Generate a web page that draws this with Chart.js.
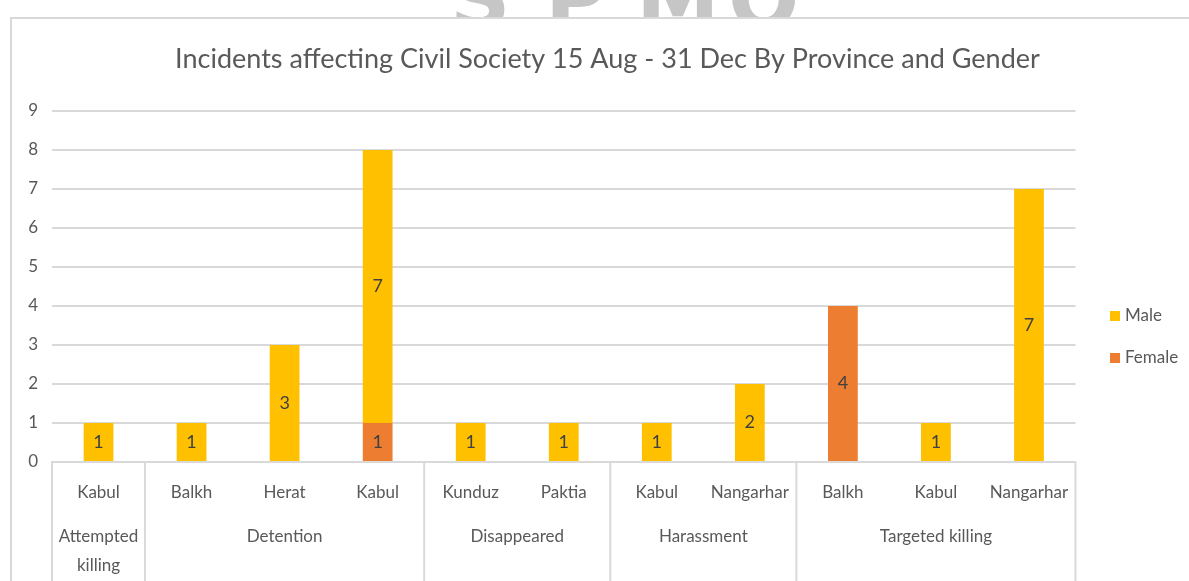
<!DOCTYPE html>
<html>
<head>
<meta charset="utf-8">
<script src="https://cdn.jsdelivr.net/npm/chart.js@4.4.1/dist/chart.umd.min.js"></script>
<style>
  html, body { margin: 0; padding: 0; background: #fff; overflow: hidden; }
  body { width: 1189px; height: 581px; position: relative; }
  .marca { position: absolute; top: -50px; font: bold 84px "DejaVu Sans", sans-serif; color: #c6c6c6; }
  .moldura { position: absolute; left: 10px; top: 17px; width: 1300px; height: 700px;
             border-left: 2px solid #d9d9d9; border-top: 2px solid #d9d9d9; background: #fff; }
  #grafico { position: absolute; left: 10px; top: 17px; }
</style>
</head>
<body>
<span class="marca" style="left:450px">S</span>
<span class="marca" style="left:545px">P</span>
<span class="marca" style="left:636px">M</span>
<span class="marca" style="left:728px">O</span>
<div class="moldura"></div>
<canvas id="grafico" width="1195" height="600"></canvas>

<script>
var grupos = ["Attempted killing", "Detention", "Disappeared", "Harassment", "Targeted killing"];
var provincias = ["Kabul", "Balkh", "Herat", "Kabul", "Kunduz", "Paktia", "Kabul", "Nangarhar", "Balkh", "Kabul", "Nangarhar"];
var grupoDe = [0, 1, 1, 1, 2, 2, 3, 3, 4, 4, 4];
var feminino = [null, null, null, 1, null, null, null, null, 4, null, null];
var masculino = [1, 1, 3, 7, 1, 1, 1, 2, null, 1, 7];
var ticksY = [0, 1, 2, 3, 4, 5, 6, 7, 8, 9];

var corTexto = "#595959";
var corLinha = "#d9d9d9";
var fonte = "Lato";

// linhas divisorias e nomes dos grupos abaixo do eixo x
var eixoGrupos = {
  id: "eixoGrupos",
  afterDraw: function (chart) {
    var ctx = chart.ctx;
    var x = chart.scales.x;
    var area = chart.chartArea;
    var limites = [area.left];
    for (var i = 1; i < provincias.length; i++) {
      if (grupoDe[i] != grupoDe[i - 1]) {
        limites.push((x.getPixelForValue(i - 1) + x.getPixelForValue(i)) / 2);
      }
    }
    limites.push(area.right);

    ctx.save();
    ctx.strokeStyle = corLinha;
    ctx.lineWidth = 2;
    for (var j = 0; j < limites.length; j++) {
      ctx.beginPath();
      ctx.moveTo(limites[j], area.bottom);
      ctx.lineTo(limites[j], chart.height);
      ctx.stroke();
    }

    ctx.fillStyle = corTexto;
    ctx.font = "17px " + fonte;
    ctx.textAlign = "center";
    ctx.textBaseline = "middle";
    for (var g = 0; g < grupos.length; g++) {
      var meio = (limites[g] + limites[g + 1]) / 2;
      var texto = grupos[g];
      if (texto == "Attempted killing") {
        ctx.fillText("Attempted", meio, area.bottom + 75);
        ctx.fillText("killing", meio, area.bottom + 104);
      } else {
        ctx.fillText(texto, meio, area.bottom + 75);
      }
    }
    ctx.restore();
  }
};

// numeros dentro das barras
var rotulosBarras = {
  id: "rotulosBarras",
  afterDatasetsDraw: function (chart) {
    var ctx = chart.ctx;
    ctx.save();
    ctx.fillStyle = "#404040";
    ctx.font = "18px " + fonte;
    ctx.textAlign = "center";
    ctx.textBaseline = "middle";
    chart.data.datasets.forEach(function (ds, d) {
      var meta = chart.getDatasetMeta(d);
      meta.data.forEach(function (barra, i) {
        if (ds.data[i] == null) return;
        ctx.fillText(ds.data[i], barra.x, (barra.y + barra.base) / 2);
      });
    });
    ctx.restore();
  }
};

// legenda a direita, Male em cima
var legendaLateral = {
  id: "legendaLateral",
  afterDraw: function (chart) {
    var ctx = chart.ctx;
    var ds = chart.data.datasets.slice().reverse();
    ctx.save();
    ctx.font = "17px " + fonte;
    ctx.textBaseline = "middle";
    ctx.textAlign = "left";
    for (var i = 0; i < ds.length; i++) {
      var y = 299 + i * 42;
      ctx.fillStyle = ds[i].backgroundColor;
      ctx.fillRect(1100, y - 5, 10, 10);
      ctx.fillStyle = corTexto;
      ctx.fillText(ds[i].label, 1115, y);
    }
    ctx.restore();
  }
};

var ctx = document.getElementById("grafico").getContext("2d");

var grafico = new Chart(ctx, {
  type: "bar",
  data: {
    labels: provincias,
    datasets: [
      {
        label: "Female",
        data: feminino,
        backgroundColor: "#ED7D31",
        barPercentage: 0.32,
        categoryPercentage: 1,
      },
      {
        label: "Male",
        data: masculino,
        backgroundColor: "#FFC000",
        barPercentage: 0.32,
        categoryPercentage: 1,
      },
    ],
  },
  options: {
    responsive: false,
    animation: false,
    plugins: {
      legend: { display: false },
      tooltip: { enabled: false },
      title: {
        display: true,
        text: "Incidents affecting Civil Society 15 Aug - 31 Dec By Province and Gender",
        color: corTexto,
        font: { family: fonte, size: 27, weight: "normal" },
        padding: { top: 26, bottom: 35.6 },
      },
    },
    scales: {
      x: {
        stacked: true,
        afterFit: function (scale) { scale.height = 155; },
        grid: { display: false, drawTicks: false },
        border: { display: true, color: corLinha, width: 2 },
        ticks: {
          color: corTexto,
          padding: 20,
          maxRotation: 0,
          autoSkip: false,
          font: { family: fonte, size: 17 },
        },
      },
      y: {
        stacked: true,
        min: 0,
        max: 9,
        afterFit: function (scale) { scale.width = 42; },
        afterBuildTicks: function (scale) {
          scale.ticks = ticksY.map(function (v) { return { value: v }; });
        },
        grid: { color: corLinha, lineWidth: 2, drawTicks: false },
        border: { display: false },
        ticks: {
          color: corTexto,
          padding: 14,
          font: { family: fonte, size: 17 },
        },
      },
      // faixa vazia a direita onde fica a legenda
      direita: {
        position: "right",
        afterFit: function (scale) { scale.width = 129.5; },
        grid: { display: false, drawTicks: false },
        border: { display: false },
        ticks: { display: false },
      },
    },
  },
  plugins: [eixoGrupos, rotulosBarras, legendaLateral],
});
</script>
</body>
</html>
